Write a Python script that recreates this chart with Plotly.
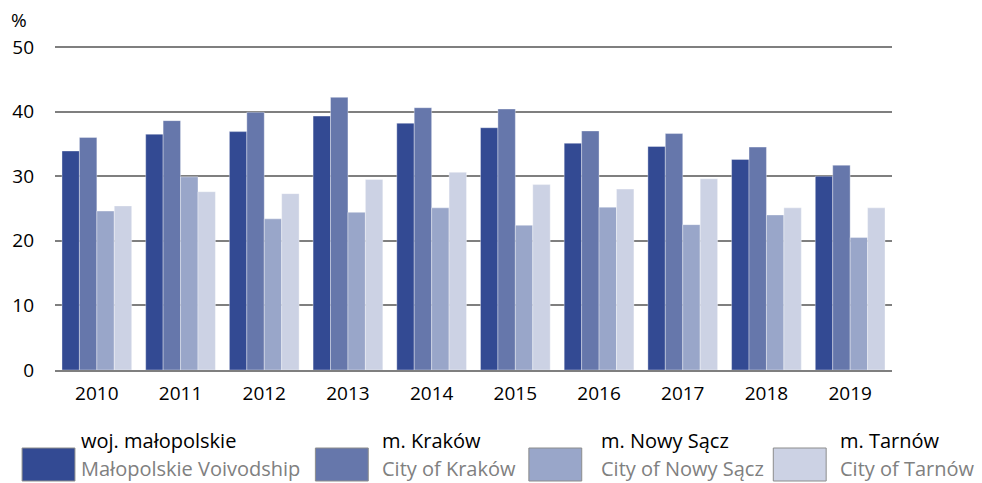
import plotly.graph_objects as go

years = ["2010", "2011", "2012", "2013", "2014", "2015", "2016", "2017", "2018", "2019"]
malopolskie = [33.9, 36.5, 36.9, 39.3, 38.2, 37.5, 35.1, 34.6, 32.6, 30.0]
krakow = [36.0, 38.6, 39.9, 42.2, 40.6, 40.4, 37.0, 36.6, 34.5, 31.7]
nowy_sacz = [24.6, 29.9, 23.4, 24.4, 25.1, 22.4, 25.2, 22.5, 24.0, 20.5]
tarnow = [25.4, 27.6, 27.3, 29.5, 30.6, 28.7, 28.0, 29.6, 25.1, 25.1]

names_pl = ["woj. małopolskie", "m. Kraków", "m. Nowy Sącz", "m. Tarnów"]
names_en = ["Małopolskie Voivodship", "City of Kraków", "City of Nowy Sącz", "City of Tarnów"]
colors = ["#334A93", "#6677AB", "#99A6C9", "#CCD2E4"]
yticks = [0, 10, 20, 30, 40, 50]

W, H = 982, 483
L, R, T, B = 53, 892, 40, 370
YMAX = 51.08

def px(x):
    return (x - L) / (R - L)

def py(y):
    return (B - y) / (B - T)

fig = go.Figure()
for vals, name, col in zip([malopolskie, krakow, nowy_sacz, tarnow], names_pl, colors):
    fig.add_trace(go.Bar(
        x=years, y=vals, name=name, marker_color=col,
        marker_line=dict(color="rgba(255,255,255,0.6)", width=0.6),
        showlegend=False,
    ))

FONT = "Open Sans, Noto Sans, sans-serif"

fig.update_layout(
    width=W, height=H,
    margin=dict(l=L, r=W - R, t=T, b=H - B, pad=0),
    barmode="group", bargap=0.167, bargroupgap=0,
    plot_bgcolor="white", paper_bgcolor="white",
    font=dict(family=FONT, size=19, color="#000000"),
    xaxis=dict(showgrid=False, showline=True, linecolor="#7f7f7f", linewidth=1.5,
               ticks="", tickfont=dict(size=19), ticklabelstandoff=5),
    yaxis=dict(range=[0, YMAX], tickvals=yticks, showgrid=True, gridcolor="#7f7f7f",
               gridwidth=1.5, zeroline=False, showline=False, ticks="",
               tickfont=dict(size=19), ticklabelstandoff=20),
)

annotations = [dict(text="%", x=px(7), y=py(20), xref="paper", yref="paper",
                    xanchor="left", yanchor="middle", showarrow=False,
                    font=dict(size=19, color="#000000"))]
shapes = []
sw_x = [20, 314, 528, 773]
tx_x = [78, 380, 599, 839]
for i in range(4):
    shapes.append(dict(type="rect", xref="paper", yref="paper",
                       x0=px(sw_x[i]), x1=px(sw_x[i] + 53), y0=py(448), y1=py(481),
                       fillcolor=colors[i], line=dict(color="#8c8c8c", width=1)))
    annotations.append(dict(text=names_pl[i], x=px(tx_x[i]), y=py(440), xref="paper", yref="paper",
                            xanchor="left", yanchor="middle", showarrow=False, borderpad=0,
                            font=dict(size=20, color="#000000")))
    annotations.append(dict(text=names_en[i], x=px(tx_x[i]), y=py(468), xref="paper", yref="paper",
                            xanchor="left", yanchor="middle", showarrow=False, borderpad=0,
                            font=dict(size=20, color="#808080")))

fig.update_layout(annotations=annotations, shapes=shapes)
fig.write_html("out.html", config={"displayModeBar": False},
               post_script="document.body.style.margin='0px';")
